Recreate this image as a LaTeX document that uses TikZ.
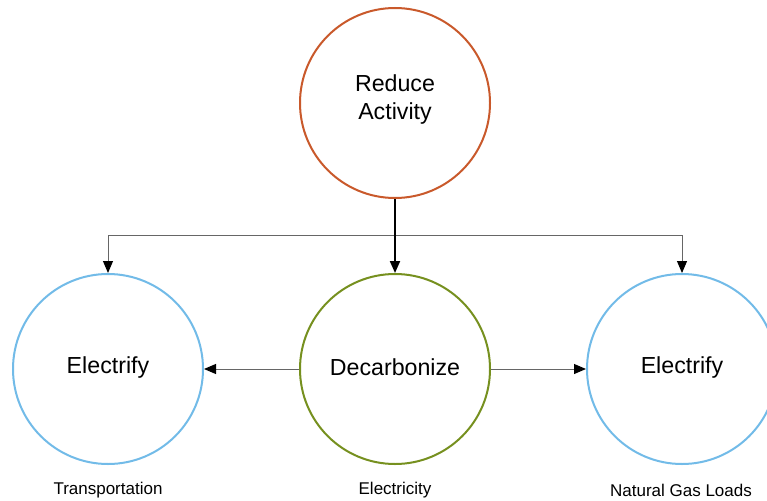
\documentclass[tikz,border=0pt]{standalone}
\usepackage{fontspec}
\setmainfont{Liberation Sans}
\usetikzlibrary{arrows.meta}
\definecolor{rustred}{HTML}{C9592B}
\definecolor{olivegreen}{HTML}{76901F}
\definecolor{skyblue}{HTML}{72BBE8}
\definecolor{linkgray}{HTML}{666666}
\begin{document}
\begin{tikzpicture}[x=1pt,y=-1pt,
  bubble/.style={circle,draw,line width=2pt,minimum size=190pt,inner sep=0pt},
  bubbletext/.style={align=center,font=\fontsize{23.2}{28}\selectfont},
  caption/.style={font=\fontsize{17}{20}\selectfont},
  link/.style={draw=linkgray,line width=1pt,-{Triangle[length=12pt,width=10pt,color=black]}},
  mainlink/.style={draw=black,line width=2pt,-{Triangle[length=12pt,width=10pt,color=black]}}]
\useasboundingbox (0,0) rectangle (767,500);
% the four strategy circles
\node[bubble,draw=rustred] (reduce) at (395,103) {};
\node[bubbletext] (reducetext) at (395,100) {Reduce\\Activity};
\node[bubble,draw=olivegreen] (decarb) at (395,369) {};
\node[bubbletext] (decarbtext) at (395,367) {Decarbonize};
\node[bubble,draw=skyblue] (elecL) at (108,369) {};
\node[bubbletext] (elecLtext) at (108,367) {Electrify};
\node[bubble,draw=skyblue] (elecR) at (682,369) {};
\node[bubbletext] (elecRtext) at (682,367) {Electrify};
% sector captions
\node[caption] (capL) at (108,490.5) {Transportation};
\node[caption] (capM) at (395,490.5) {Electricity};
\node[caption] (capR) at (681,490.5) {Natural Gas Loads};
% branching from the top circle
\coordinate (bus) at (395,235);
\draw[link] (bus) -| (elecL.north);
\draw[link] (bus) -| (elecR.north);
\draw[mainlink] (reduce.south) -- (decarb.north);
% side arrows
\draw[link] (decarb.west) -- (elecL.east);
\draw[link] (decarb.east) -- (elecR.west);
\end{tikzpicture}
\end{document}
